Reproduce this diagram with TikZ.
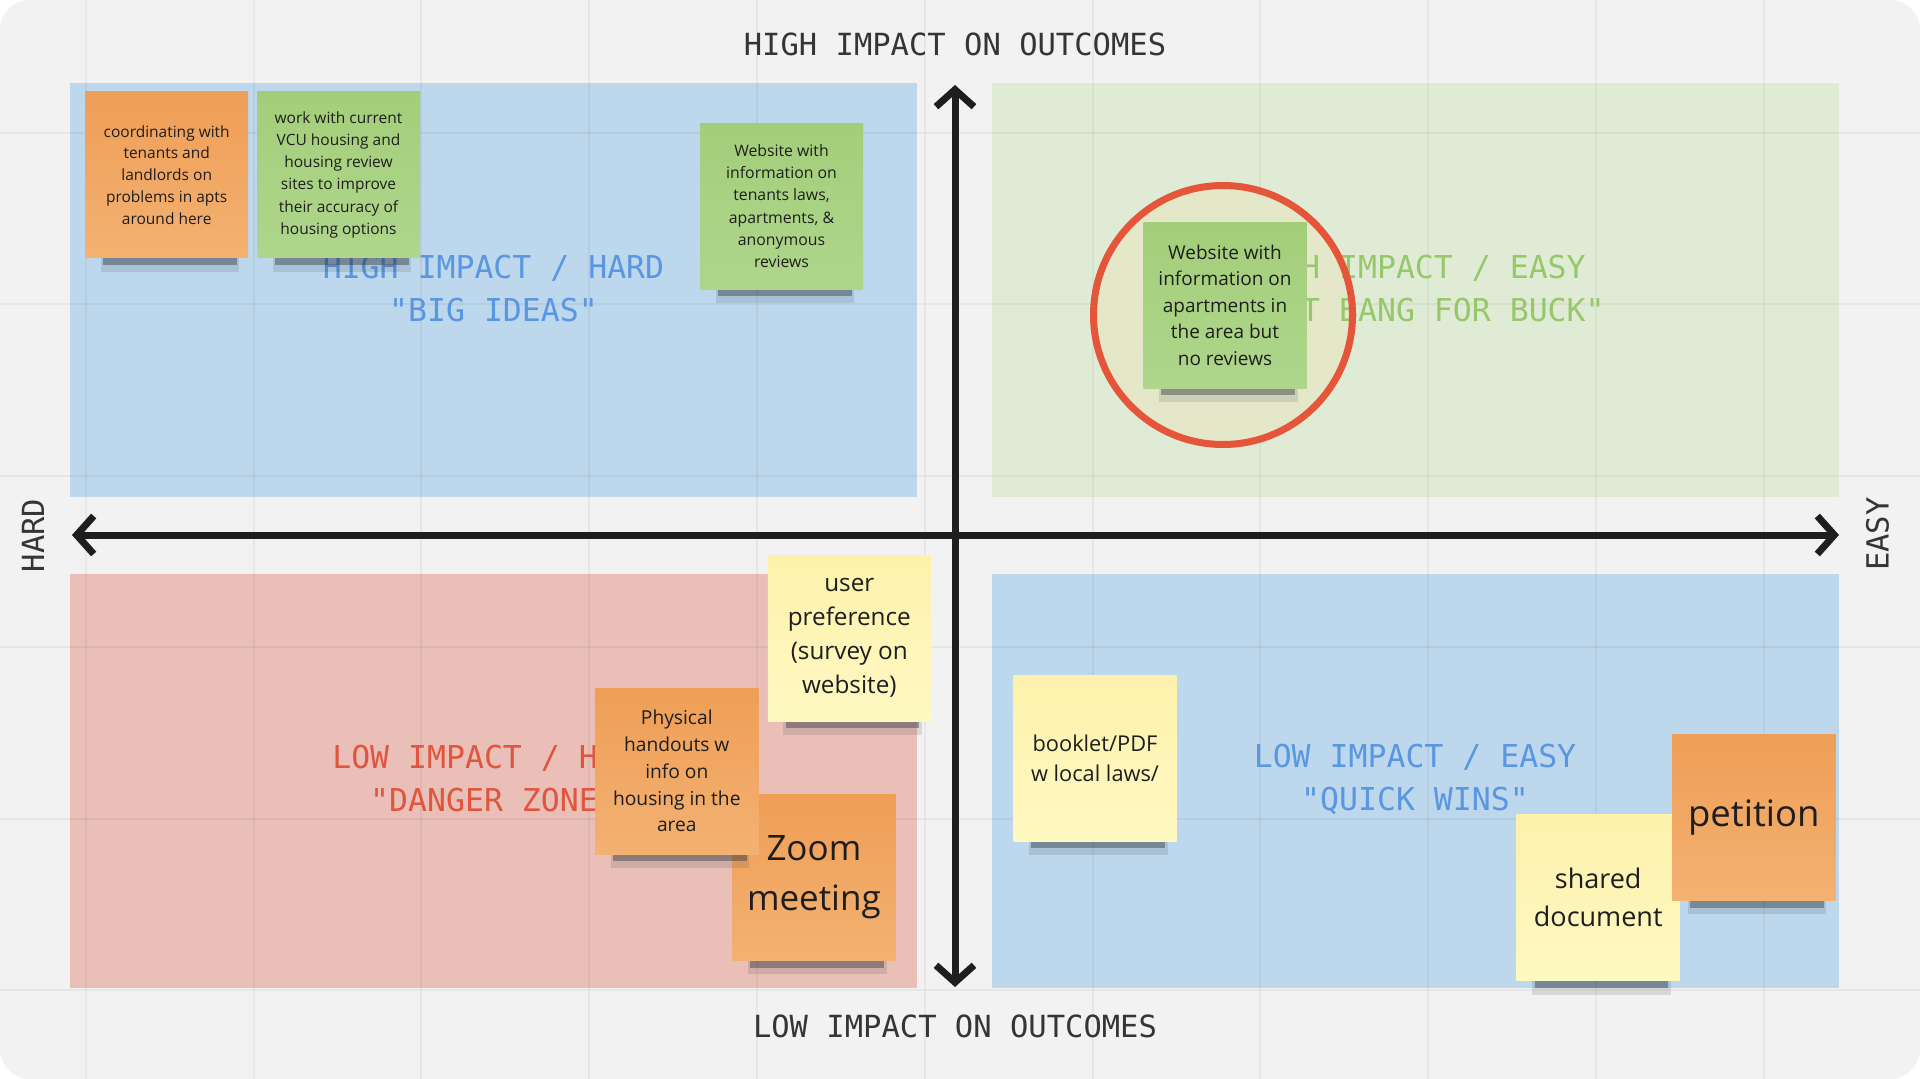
\documentclass[tikz,border=0pt]{standalone}
\usepackage{fontspec}
\setmainfont{Open Sans}
\newfontfamily\monolabel{DejaVu Sans Mono}
\usetikzlibrary{arrows.meta}
\usetikzlibrary{shadows}

\definecolor{panel}{HTML}{F2F2F2}
\definecolor{quadblue}{HTML}{BDD7EC}
\definecolor{quadgreen}{HTML}{E0EBD5}
\definecolor{quadred}{HTML}{E9BFB7}
\definecolor{labelblue}{HTML}{5A97E0}
\definecolor{labelgreen}{HTML}{96C86A}
\definecolor{labelred}{HTML}{E0553E}
\definecolor{orangetop}{HTML}{EF9E56}
\definecolor{orangebot}{HTML}{F3B172}
\definecolor{greentop}{HTML}{A3CE79}
\definecolor{greenbot}{HTML}{AFD68C}
\definecolor{yellowtop}{HTML}{FDF2AC}
\definecolor{yellowbot}{HTML}{FEF8C2}
\definecolor{ring}{HTML}{E4553A}
\definecolor{ringfill}{HTML}{E4E8C9}
\definecolor{ink}{HTML}{1E1E1E}
\definecolor{shadowink}{HTML}{2A3038}

\begin{document}
\begin{tikzpicture}[x=1pt, y=-1pt] % one unit is one pixel of the board, y grows downwards
    \tikzstyle{gridline}=[black, opacity=0.045, line width=2pt]
    \tikzstyle{quadlabel}=[font=\monolabel\fontsize{31.5}{43}\selectfont, align=center]
    \tikzstyle{axislabel}=[font=\monolabel\fontsize{30.5}{36}\selectfont, text=ink!90]
    \tikzstyle{axis}=[line width=7pt, draw=ink, {Straight Barb[length=17pt,width=38pt]}-{Straight Barb[length=17pt,width=38pt]}]
    \tikzstyle{note}=[rectangle, minimum width=163pt, minimum height=166pt, inner sep=0pt, align=center, text=ink,
        drop shadow={shadow xshift=4pt, shadow yshift=-31pt, shadow scale=0.85, opacity=0.13, fill=shadowink},
        drop shadow={shadow xshift=4pt, shadow yshift=-27pt, shadow scale=0.82, opacity=0.4, fill=shadowink}]
    \tikzstyle{orangenote}=[note, top color=orangetop, bottom color=orangebot]
    \tikzstyle{greennote}=[note, top color=greentop, bottom color=greenbot]
    \tikzstyle{yellownote}=[note, top color=yellowtop, bottom color=yellowbot]

    \useasboundingbox (0,0) rectangle (1920,1079);
    \fill[white] (0,0) rectangle (1920,1079);
    \fill[panel, rounded corners=30pt] (0,0) rectangle (1920,1079); % board

    % Quadrants
    \fill[quadblue] (70.4,83.3) rectangle (916.5,496.6);
    \fill[quadgreen] (992.4,83.3) rectangle (1838.5,496.6);
    \fill[quadred] (70.4,574) rectangle (916.5,987.5);
    \fill[quadblue] (992.4,574) rectangle (1838.5,987.5);

    \begin{scope}
        \clip[rounded corners=30pt] (0,0) rectangle (1920,1079);
        \foreach \gx in {0,...,10} {
            \draw[gridline] ({85.7+167.8*\gx},0) -- ({85.7+167.8*\gx},1079);
        }
        \foreach \gy in {0,...,5} {
            \draw[gridline] (0,{132.6+171.5*\gy}) -- (1920,{132.6+171.5*\gy});
        }
    \end{scope}

    \fill[ringfill] (1223,315) circle[radius=129.5]; % highlight behind the chosen note

    \node[quadlabel, text=labelblue] (bigideas) at (493.5,288.5) {HIGH IMPACT / HARD\\"BIG IDEAS"};
    \node[quadlabel, text=labelgreen] (bestbang) at (1415,288.5) {HIGH IMPACT / EASY\\"BEST BANG FOR BUCK"};
    \node[quadlabel, text=labelred] (danger) at (493.5,779) {LOW IMPACT / HARD\\"DANGER ZONE"};
    \node[quadlabel, text=labelblue] (quickwins) at (1415,779) {LOW IMPACT / EASY\\"QUICK WINS"};

    % Axes
    \coordinate (west) at (72,535);
    \coordinate (east) at (1839,535);
    \coordinate (north) at (955,85);
    \coordinate (south) at (955,987);
    \draw[axis] (west) -- (east);
    \draw[axis] (north) -- (south);

    % Sticky notes
    \node[orangenote, font=\fontsize{15.5}{21.7}\selectfont] (coordinating) at (166.7,174.8) {coordinating with\\tenants and\\landlords on\\problems in apts\\around here};
    \node[greennote, font=\fontsize{15.5}{22.2}\selectfont] (vcu) at (338.5,174.8) {work with current\\VCU housing and\\housing review\\sites to improve\\their accuracy of\\housing options};
    \node[greennote, font=\fontsize{15.8}{22.2}\selectfont] (tenantsite) at (781.5,206) {Website with\\information on\\tenants laws,\\apartments, \&\\anonymous\\reviews};
    \node[greennote, font=\fontsize{19}{26.5}\selectfont] (aptsite) at (1225,305) {Website with\\information on\\apartments in\\the area but\\no reviews};
    \node[yellownote, font=\fontsize{24.3}{34}\selectfont] (survey) at (849.3,638) {user\\preference\\(survey on\\website)};
    \node[orangenote, font=\fontsize{35}{50}\selectfont] (zoom) at (813.9,877.4) {Zoom\\meeting};
    \node[orangenote, font=\fontsize{19.2}{26.8}\selectfont] (handouts) at (676.8,771) {Physical\\handouts w\\info on\\housing in the\\area};
    \node[yellownote, font=\fontsize{21.8}{30.5}\selectfont] (booklet) at (1095,758.2) {booklet/PDF\\w local laws/};
    \node[yellownote, font=\fontsize{27}{38}\selectfont] (shared) at (1598.2,897.8) {shared\\document};
    \node[orangenote, font=\fontsize{36.5}{44}\selectfont] (petition) at (1753.8,817.3) {petition};

    \draw[ring, line width=7pt] (aptsite.center) ++(-2,10) circle[radius=129.5];

    % Axis labels
    \node[axislabel] (high) at (955,44) {HIGH IMPACT ON OUTCOMES};
    \node[axislabel] (low) at (955,1026) {LOW IMPACT ON OUTCOMES};
    \node[axislabel, rotate=90] (hard) at (33,535.5) {HARD};
    \node[axislabel, rotate=90] (easy) at (1877.5,534) {EASY};
\end{tikzpicture}
\end{document}
